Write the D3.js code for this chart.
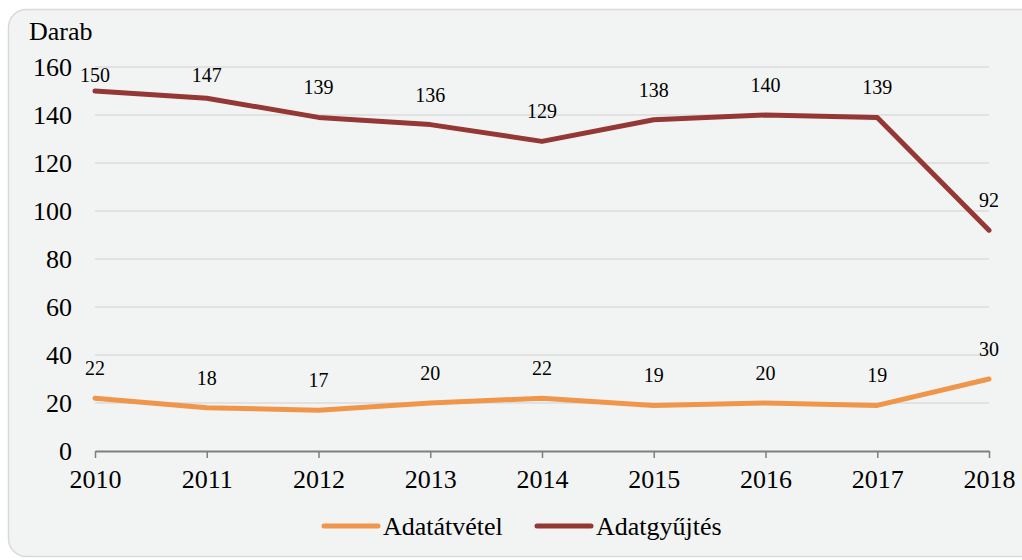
<!DOCTYPE html>
<html>
<head>
<meta charset="utf-8">
<script src="https://cdn.jsdelivr.net/npm/d3@7"></script>
<style>
  body { margin: 0; background: #ffffff; }
</style>
</head>
<body>
<div id="chart"></div>
<script>
// chart data
const years = [2010, 2011, 2012, 2013, 2014, 2015, 2016, 2017, 2018];
const adatatvetel = [22, 18, 17, 20, 22, 19, 20, 19, 30];
const adatgyujtes = [150, 147, 139, 136, 129, 138, 140, 139, 92];
const yTicks = [0, 20, 40, 60, 80, 100, 120, 140, 160];
const seriesNames = ['Adatátvétel', 'Adatgyűjtés'];
const seriesColors = ['#f0964b', '#953735'];

const width = 1022, height = 560;
const serif = '"Liberation Serif", "Times New Roman", serif';

const svg = d3.select('#chart').append('svg')
    .attr('width', width)
    .attr('height', height)
    .attr('font-family', serif);

// frame
svg.append('rect')
    .attr('x', 8.5).attr('y', 9.5)
    .attr('width', 1040).attr('height', 547)
    .attr('rx', 18).attr('ry', 18)
    .style('fill', '#f2f4f3')
    .style('stroke', '#d9d9d9')
    .style('stroke-width', 1.5);

// scales
const xScale = d3.scalePoint()
    .domain(years)
    .range([95, 989]);

const yScale = d3.scaleLinear()
    .domain([0, 160])
    .range([451, 67]);

// grid lines
svg.append('g')
    .selectAll('line')
    .data(yTicks.filter(function (d) { return d > 0; }))
    .enter().append('line')
    .attr('x1', 95).attr('x2', 989)
    .attr('y1', function (d) { return yScale(d); })
    .attr('y2', function (d) { return yScale(d); })
    .style('stroke', '#cfcfcf')
    .style('stroke-width', 1);

// y axis labels
svg.append('g')
    .selectAll('text')
    .data(yTicks)
    .enter().append('text')
    .attr('x', 72)
    .attr('y', function (d) { return yScale(d); })
    .attr('dy', '0.35em')
    .style('text-anchor', 'end')
    .style('font-family', serif)
    .style('font-size', '26px')
    .text(function (d) { return d; });

svg.append('text')
    .attr('x', 29).attr('y', 40)
    .style('font-family', serif)
    .style('font-size', '26px')
    .text('Darab');

// x axis
const xAxis = svg.append('g')
    .attr('transform', `translate(0, ${yScale(0)})`)
    .call(d3.axisBottom(xScale).tickSize(7).tickSizeOuter(0).tickPadding(12));
xAxis.select('.domain').style('stroke', '#7f7f7f').style('stroke-width', 2);
xAxis.selectAll('.tick line').style('stroke', '#7f7f7f').style('stroke-width', 1.5);
xAxis.selectAll('.tick text')
    .style('font-family', serif)
    .style('font-size', '26px')
    .style('fill', '#000');

// lines
const series = [adatatvetel, adatgyujtes];
const line = d3.line()
    .x(function (d, i) { return xScale(years[i]); })
    .y(function (d) { return yScale(d); });

series.forEach(function (values, s) {
    svg.append('path')
        .datum(values)
        .attr('d', line)
        .style('fill', 'none')
        .style('stroke', seriesColors[s])
        .style('stroke-width', 5)
        .style('stroke-linejoin', 'round')
        .style('stroke-linecap', 'round');

    // data labels
    svg.append('g')
        .selectAll('text')
        .data(values)
        .enter().append('text')
        .attr('x', function (d, i) { return xScale(years[i]); })
        .attr('y', function (d) { return Math.max(yScale(d) - 30, yScale(160) + 8); })
        .attr('dy', '0.35em')
        .style('text-anchor', 'middle')
        .style('font-family', serif)
        .style('font-size', '20px')
        .text(function (d) { return d; });
});

// legend
const legendX = [323, 536];
const legend = svg.selectAll('.legend')
    .data(seriesNames)
    .enter().append('g')
    .attr('class', 'legend')
    .attr('transform', function (d, i) { return `translate(${legendX[i]}, 526)`; });

legend.append('line')
    .attr('x1', 1).attr('x2', 55)
    .style('stroke', function (d, i) { return seriesColors[i]; })
    .style('stroke-width', 5)
    .style('stroke-linecap', 'round');

legend.append('text')
    .attr('x', 60)
    .attr('dy', '0.35em')
    .style('font-family', serif)
    .style('font-size', '26px')
    .text(function (d) { return d; });
</script>
</body>
</html>
